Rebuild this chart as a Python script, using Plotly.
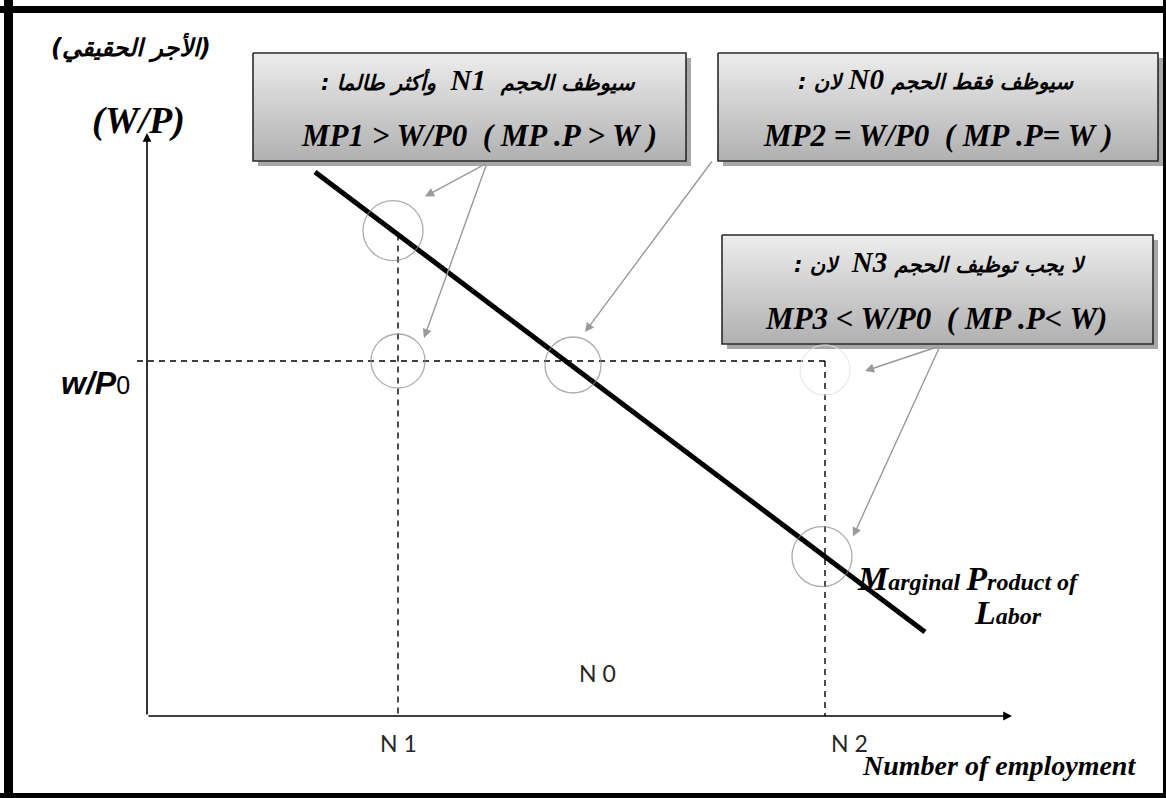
import plotly.graph_objects as go
import numpy as np

# ---------------- data (economic units) ----------------
employment_labels = ["N 1", "N 0", "N 2"]
employment_levels = [25.1, 42.6, 67.8]      # N1, N0, N2
real_wage_P0 = 35.5                         # w/P0
mpl_employment = [16.8, 77.8]               # marginal product of labour line
mpl_real_wage = [54.4, 8.4]
x_axis_end = 86.5
y_axis_end = 58.3

# ---------------- layout helpers (pixel -> axis units) ----------------
W, H = 1166, 798
OX, OY, S = 147, 716, 10.0
def X(px):
    return (px - OX) / S
def Y(py):
    return (OY - py) / S

def mpl_at(n):
    return float(np.interp(n, mpl_employment, mpl_real_wage))

N1, N0, N2 = employment_levels
serif = "Liberation Serif, DejaVu Sans"
arab = "DejaVu Sans"

fig = go.Figure()

# ---------------- boxes (shadow + gradient + border) ----------------
boxes = [(253, 53, 686, 161), (718, 53, 1158, 161), (722, 235, 1153, 344)]
for (l, t, r, b) in boxes:
    xs = [X(l + 5), X(r + 5), X(r + 5), X(l + 5), X(l + 5)]
    ys = [Y(t + 5), Y(t + 5), Y(b + 5), Y(b + 5), Y(t + 5)]
    fig.add_trace(go.Scatter(x=xs, y=ys, mode="lines", fill="toself",
                             fillcolor="rgba(60,60,60,0.45)",
                             line=dict(width=0), hoverinfo="skip"))
    xs = [X(l), X(r), X(r), X(l), X(l)]
    ys = [Y(t), Y(t), Y(b), Y(b), Y(t)]
    fig.add_trace(go.Scatter(x=xs, y=ys, mode="lines", fill="toself",
                             fillgradient=dict(type="vertical",
                                               colorscale=[[0, "#b0b0b0"], [1, "#ededed"]]),
                             line=dict(color="#2b2b2b", width=1.6), hoverinfo="skip"))

# ---------------- dashed guide lines ----------------
dash = dict(color="black", width=1.4, dash="6px,5px")
fig.add_trace(go.Scatter(x=[X(137), N2], y=[real_wage_P0, real_wage_P0], mode="lines",
                         line=dash, hoverinfo="skip"))
fig.add_trace(go.Scatter(x=[N1, N1], y=[mpl_at(N1), 0], mode="lines",
                         line=dash, hoverinfo="skip"))
fig.add_trace(go.Scatter(x=[N2, N2], y=[real_wage_P0, 0], mode="lines",
                         line=dash, hoverinfo="skip"))

# ---------------- MPL line ----------------
fig.add_trace(go.Scatter(x=mpl_employment, y=mpl_real_wage, mode="lines",
                         line=dict(color="black", width=5), hoverinfo="skip"))

# ---------------- circles ----------------
cx = [N1 - 0.5, N1, N0, N2, N2 - 0.3]
cy = [mpl_at(N1) + 0.4, real_wage_P0, real_wage_P0 - 0.4, real_wage_P0 - 0.9, mpl_at(N2)]
csize = [60, 54, 56, 50, 60]
ccol = ["#8a8a8a", "#8a8a8a", "#8a8a8a", "#e2e2e2", "#8a8a8a"]
fig.add_trace(go.Scatter(x=cx, y=cy, mode="markers",
                         marker=dict(symbol="circle-open", size=csize, color=ccol,
                                     line=dict(width=1.3)),
                         hoverinfo="skip"))

ann = []

# ---------------- axes with arrows ----------------
for (x1, y1) in [(x_axis_end, 0), (0, y_axis_end)]:
    ann.append(dict(x=x1, y=y1, ax=0, ay=0, xref="x", yref="y", axref="x", ayref="y",
                    text="", showarrow=True, arrowhead=2, arrowsize=1.1,
                    arrowwidth=1.6, arrowcolor="black"))

# ---------------- grey call-out arrows ----------------
callouts = [((487, 163), (cx[0] + 3.2, cy[0] + 3.4)),
            ((487, 163), (cx[1] + 2.6, cy[1] + 2.3)),
            ((713, 160), (cx[2] + 1.2, cy[2] + 3.3)),
            ((940, 346), (cx[3] + 4.0, cy[3] - 0.1)),
            ((940, 346), (cx[4] + 3.1, cy[4] + 2.0))]
for (tail, head) in callouts:
    ann.append(dict(x=head[0], y=head[1], ax=X(tail[0]), ay=Y(tail[1]),
                    xref="x", yref="y", axref="x", ayref="y", text="",
                    showarrow=True, arrowhead=2, arrowsize=1.3, arrowwidth=1.4,
                    arrowcolor="#9a9a9a"))

def text(px, py, s, size, family=serif, weight="bold", style="italic",
         color="black", xanchor="center"):
    ann.append(dict(x=X(px), y=Y(py), xref="x", yref="y", text=s, showarrow=False,
                    xanchor=xanchor, yanchor="middle",
                    font=dict(family=family, size=size, color=color,
                              weight=weight, style=style)))

NS = "<span style='font-family:Liberation Serif;font-size:29px'>%s</span>"

# box texts (Arabic written in LTR-logical order so bidi gives the visual order)
text(478, 80, ": وأكثر طالما  " + NS % "N1" + "  سيوظف الحجم", 21, family=arab)
text(479, 135, "MP1 &gt; W/P0  ( MP .P &gt; W )", 31)
text(936, 79, ": لان " + NS % "N0" + " سيوظف فقط الحجم", 21, family=arab)
text(938, 135, "MP2 = W/P0  ( MP .P= W )", 31)
text(940, 262, ": لان  " + NS % "N3" + " لا يجب توظيف الحجم", 21, family=arab)
text(936, 318, "MP3 &lt; W/P0  ( MP .P&lt; W)", 31)

# axis titles
text(131, 47, "(الأجر الحقيقي)", 24, family=arab, weight="bold")
text(138, 120, "(W/P)", 38)
text(95, 383, "w/P<span style='font-style:normal;font-weight:normal;font-size:25px'>0</span>",
     32, family="Liberation Sans", weight="bold", style="italic")

# tick labels
lab_dx = [0, 24, 24]
lab_py = [743, 673, 743]
for lab, n, dxp, pyl in zip(employment_labels, employment_levels, lab_dx, lab_py):
    ann.append(dict(x=n, y=Y(pyl), xref="x", yref="y", text=lab, showarrow=False,
                    xshift=dxp, xanchor="center", yanchor="middle",
                    font=dict(family="Lato, Liberation Sans", size=23, color="#262626")))

text(999, 765, "Number of employment", 28)

BIG = "<span style='font-size:34px'>%s</span>"
text(968, 578, BIG % "M" + "arginal " + BIG % "P" + "roduct of", 24)
text(1008, 612, BIG % "L" + "abor", 24)

fig.update_layout(annotations=ann)

# ---------------- outer frame ----------------
frame = [dict(type="rect", xref="paper", yref="paper", x0=4 / W, x1=13 / W, y0=0, y1=1),
         dict(type="rect", xref="paper", yref="paper", x0=0, x1=1, y0=1 - 13 / H, y1=1 - 6 / H),
         dict(type="rect", xref="paper", yref="paper", x0=0, x1=1, y0=0, y1=5 / H),
         dict(type="rect", xref="paper", yref="paper", x0=1 - 3 / W, x1=1, y0=0, y1=1)]
for f in frame:
    f.update(fillcolor="black", line=dict(width=0), layer="above")

fig.update_layout(
    width=W, height=H, margin=dict(l=0, r=0, t=0, b=0),
    paper_bgcolor="white", plot_bgcolor="white", showlegend=False,
    shapes=frame,
    xaxis=dict(range=[X(0), X(W)], visible=False, fixedrange=True),
    yaxis=dict(range=[Y(H), Y(0)], visible=False, fixedrange=True),
)

fig.write_html("out.html", config={"displayModeBar": False},
               post_script="document.body.style.margin='0px';document.body.style.overflow='hidden';")
